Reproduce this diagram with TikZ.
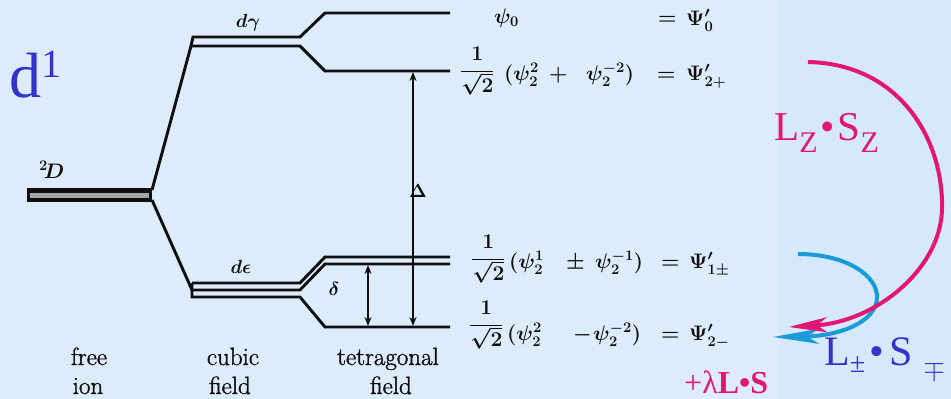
\RequirePackage{fix-cm}
\documentclass[tikz,border=0pt]{standalone}
\usepackage{fontspec}
\newfontfamily\tnr{Liberation Serif}
\newfontfamily\scanfont[FakeBold=1.3]{Latin Modern Roman}
\usetikzlibrary{arrows.meta}
\definecolor{bgL}{RGB}{221,235,251}
\definecolor{bgR}{RGB}{213,232,252}
\definecolor{pinkc}{RGB}{228,22,115}
\definecolor{bluec}{RGB}{25,155,218}
\definecolor{indigo}{RGB}{51,51,204}
\definecolor{ink}{RGB}{15,15,15}
\newcommand\fsz[1]{\fontsize{#1}{#1}\selectfont}
\newcommand\myfr{\displaystyle\frac{1}{\sqrt{2}}}
\begin{document}
\begin{tikzpicture}[x=1pt,y=-1pt,
  lvl/.style={line width=2.9pt, draw=ink},
  gap/.style={line width=2pt, draw=ink, {Stealth[length=9pt,width=7pt]}-{Stealth[length=9pt,width=7pt]}},
  sym/.style={inner sep=0pt, anchor=base west, text=ink, font=\fsz{21}\boldmath},
  frc/.style={inner sep=0pt, anchor=west, text=ink, font=\fsz{21}\boldmath},
  lab/.style={inner sep=0pt, anchor=base, text=ink, font=\scanfont\fsz{25}},
  sml/.style={inner sep=0pt, anchor=base, text=ink, font=\fsz{17}\boldmath},
  big/.style={inner sep=0pt, anchor=base west, font=\tnr},
  curve/.style={line width=4pt}]
\useasboundingbox (0,0) rectangle (951,399);
\fill[bgL] (0,0) rectangle (779,399);
\fill[bgR] (779,0) rectangle (951,399);

% free ion level
\draw[line width=14pt, ink] (27,195) -- (152,195);
\draw[line width=5pt, gray!70] (30,195) -- (149,195);

% cubic and tetragonal levels
\draw[lvl] (152,190) -- (191,46) -- (300,46) -- (325,71) -- (450,71);
\draw[lvl] (191,46) -- (193,37) -- (300,37) -- (325,13) -- (450,13);
\draw[lvl] (152,200) -- (192,290) -- (300,290) -- (325,264) -- (450,264);
\draw[lvl] (192,283) -- (300,283) -- (325,257) -- (450,257);
\draw[lvl] (192,283) -- (192,297) -- (300,297) -- (325,327) -- (450,327);

% splittings
\coordinate (DT) at (413,72);
\coordinate (DB) at (413,326);
\coordinate (dT) at (368,265);
\coordinate (dB) at (368,326);
\draw[gap] (DT) -- (DB);
\draw[gap] (dT) -- (dB);

% level labels
\node[sml, anchor=base west, font=\fsz{21}\boldmath] (lD) at (39,178) {$^{2}\!D$};
\node[sml, font=\fsz{19}\boldmath] (ldg) at (248,27) {$d\gamma$};
\node[sml, font=\fsz{19}\boldmath] (lde) at (241,273) {$d\epsilon$};
\node[sml, font=\fsz{19}\boldmath] (lDelta) at (418,197) {$\Delta$};
\node[sml, font=\fsz{19}\boldmath] (ldelta) at (334,295) {$\delta$};

% bottom labels
\node[lab] (free) at (89,365) {free};
\node[lab] (ion) at (88,394) {ion};
\node[lab] (cubic) at (233,365) {cubic};
\node[lab] (field1) at (230,394) {field};
\node[lab] (tetra) at (388,365) {tetragonal};
\node[lab] (field2) at (391,394) {field};

% wavefunctions
\node[sym] (t0a) at (494,23) {$\psi_0$};
\node[sym] (t0b) at (658,24) {$=$};
\node[sym] (t0c) at (686,25) {$\Psi'_0$};

\node[frc] (f1a) at (460,71) {$\myfr$};
\node[sym] (f1b) at (504,80) {$(\psi_2^2$};
\node[sym] (f1c) at (549,80) {$+$};
\node[sym] (f1d) at (586,80) {$\psi_2^{-2})$};
\node[sym] (f1e) at (657,80) {$=$};
\node[sym] (f1f) at (686,80) {$\Psi'_{2+}$};

\node[frc] (f3a) at (471,259) {$\myfr$};
\node[sym] (f3b) at (509,268) {$(\psi_2^1$};
\node[sym] (f3c) at (566,268) {$\pm$};
\node[sym] (f3d) at (595,268) {$\psi_2^{-1})$};
\node[sym] (f3e) at (661,268) {$=$};
\node[sym] (f3f) at (689,268) {$\Psi'_{1\pm}$};

\node[frc] (f4a) at (469,325) {$\myfr$};
\node[sym] (f4b) at (507,340) {$(\psi_2^2$};
\node[sym] (f4c) at (573,340) {$-$};
\node[sym] (f4d) at (593,340) {$\psi_2^{-2})$};
\node[sym] (f4e) at (661,340) {$=$};
\node[sym] (f4f) at (689,340) {$\Psi'_{2-}$};

% coloured annotations
\node[big, text=indigo, font=\tnr\fsz{64}] (d1) at (9,97) {d\raisebox{20pt}{\fsz{40}1}};
\node[big, text=pinkc, font=\tnr\fsz{41}] (LzSz) at (774,140)
  {L\raisebox{-12pt}{\fsz{30}Z}\hspace{3pt}•\hspace{3pt}S\raisebox{-12pt}{\fsz{30}Z}};
\node[big, text=indigo, font=\tnr\fsz{42}] (LpSm) at (824,365)
  {L\raisebox{-7pt}{\fsz{28}±}\hspace{4pt}•\hspace{6pt}S\hspace{10pt}\raisebox{-12pt}{\fsz{28}$\mp$}};
\node[big, text=pinkc, font=\tnr\fsz{32}] (lamLS) at (684,393) {+λ\textbf{L•S}};

% spin-orbit arrows
\coordinate (bS) at (798,254);
\coordinate (bE) at (773,337);
\coordinate (pS) at (808,62);
\coordinate (pE) at (789,327);
\draw[curve, bluec, -{Stealth[length=46pt,width=15pt,inset=12pt]}]
  (bS) .. controls (845,254) and (878,275) .. (877,298)
       .. controls (876,322) and (840,336) .. (bE);
\draw[curve, pinkc, -{Stealth[length=38pt,width=15pt,inset=10pt]}]
  (pS) .. controls (900,64) and (944,140) .. (942,210)
       .. controls (940,270) and (875,322) .. (pE);
\end{tikzpicture}
\end{document}
